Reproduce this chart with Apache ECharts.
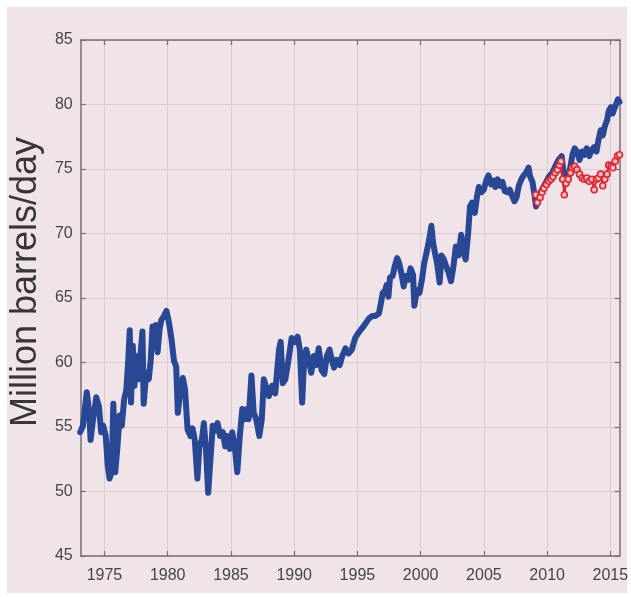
<!DOCTYPE html>
<html>
<head>
<meta charset="utf-8">
<script src="https://cdn.jsdelivr.net/npm/echarts@6/dist/echarts.min.js"></script>
<style>
  html, body { margin: 0; padding: 0; background: #ffffff; }
  #chart { width: 631px; height: 597px; }
</style>
</head>
<body>
<div id="chart"></div>
<script>
// World oil production, million barrels per day (monthly, traced)
const prodYears = [
  1973.08, 1973.3, 1973.6, 1973.8, 1973.9, 1974.1, 1974.35, 1974.56, 1974.74, 1974.9,
  1975.1, 1975.26, 1975.4, 1975.57, 1975.7, 1975.85, 1976.03, 1976.2, 1976.37, 1976.55,
  1976.73, 1976.88, 1977.0, 1977.1, 1977.24, 1977.37, 1977.5, 1977.7, 1977.8, 1978.0,
  1978.1, 1978.3, 1978.5, 1978.66, 1978.8, 1978.94, 1979.07, 1979.2, 1979.36, 1979.5,
  1979.7, 1979.9, 1980.1, 1980.3, 1980.5, 1980.67, 1980.8, 1981.0, 1981.2, 1981.37,
  1981.57, 1981.8, 1981.96, 1982.14, 1982.35, 1982.5, 1982.7, 1982.86, 1983.04, 1983.2,
  1983.4, 1983.56, 1983.76, 1983.94, 1984.15, 1984.36, 1984.54, 1984.7, 1984.9, 1985.1,
  1985.3, 1985.5, 1985.7, 1985.9, 1986.08, 1986.26, 1986.4, 1986.62, 1986.8, 1987.0,
  1987.24, 1987.44, 1987.6, 1987.75, 1988.0, 1988.26, 1988.5, 1988.8, 1988.93, 1989.1,
  1989.3, 1989.55, 1989.8, 1990.06, 1990.27, 1990.45, 1990.63, 1990.78, 1990.96, 1991.14,
  1991.35, 1991.55, 1991.74, 1991.94, 1992.17, 1992.38, 1992.58, 1992.8, 1992.97, 1993.15,
  1993.35, 1993.6, 1993.8, 1994.05, 1994.3, 1994.56, 1994.82, 1995.08, 1995.4, 1995.65,
  1995.9, 1996.16, 1996.4, 1996.7, 1996.86, 1997.0, 1997.2, 1997.3, 1997.45, 1997.58,
  1997.78, 1997.96, 1998.14, 1998.3, 1998.48, 1998.66, 1998.8, 1999.0, 1999.2, 1999.4,
  1999.5, 1999.7, 1999.9, 2000.1, 2000.28, 2000.46, 2000.67, 2000.85, 2000.98, 2001.13,
  2001.3, 2001.5, 2001.65, 2001.83, 2002.0, 2002.2, 2002.4, 2002.6, 2002.78, 2003.0,
  2003.2, 2003.4, 2003.56, 2003.76, 2003.9, 2004.07, 2004.28, 2004.46, 2004.6, 2004.8,
  2005.0, 2005.18, 2005.36, 2005.57, 2005.77, 2005.9, 2006.08, 2006.3, 2006.47, 2006.65,
  2006.86, 2007.04, 2007.24, 2007.42, 2007.58, 2007.76, 2007.96, 2008.14, 2008.32, 2008.53,
  2008.66, 2008.84, 2009.0, 2009.12, 2009.36, 2009.6, 2009.87, 2010.13, 2010.4, 2010.64,
  2010.9, 2011.15, 2011.3, 2011.4, 2011.67, 2011.85, 2012.0, 2012.18, 2012.36, 2012.56,
  2012.77, 2012.95, 2013.13, 2013.33, 2013.54, 2013.72, 2013.9, 2014.05, 2014.23, 2014.4,
  2014.56, 2014.74, 2014.87, 2015.05, 2015.18, 2015.4, 2015.6, 2015.72
];
const prodValues = [
  54.6, 55.1, 57.7, 56.1, 54.0, 55.6, 57.3, 56.6, 54.6, 55.1,
  54.3, 52.0, 51.0, 51.5, 56.8, 51.5, 53.5, 55.9, 55.1, 57.1,
  57.9, 60.2, 62.5, 56.9, 61.3, 58.2, 60.5, 58.7, 60.0, 62.4,
  56.8, 59.2, 58.7, 60.2, 62.8, 61.3, 62.9, 60.8, 62.6, 63.3,
  63.6, 64.0, 63.1, 61.8, 60.1, 59.7, 56.1, 57.9, 58.8, 57.9,
  54.8, 54.3, 54.9, 54.0, 51.0, 53.5, 54.0, 55.3, 53.0, 49.9,
  52.8, 55.1, 54.7, 55.3, 54.3, 54.6, 53.5, 54.3, 53.3, 54.6,
  53.5, 51.5, 54.3, 56.4, 55.6, 56.4, 55.6, 59.0, 56.1, 55.6,
  54.3, 55.6, 58.7, 58.8, 57.4, 58.2, 57.6, 61.0, 61.6, 58.4,
  58.7, 60.2, 61.9, 61.6, 62.0, 61.0, 56.9, 60.0, 61.0, 60.2,
  59.2, 60.5, 59.8, 61.1, 59.4, 59.1, 60.5, 61.0, 60.2, 59.6,
  60.2, 59.8, 60.5, 61.1, 60.7, 61.0, 61.9, 62.3, 62.7, 63.05,
  63.4, 63.6, 63.6, 63.8, 64.6, 65.4, 65.6, 66.0, 65.1, 66.6,
  66.7, 67.5, 68.1, 67.7, 66.9, 65.9, 66.7, 66.4, 67.3, 66.8,
  64.4, 65.6, 65.4, 66.4, 67.7, 68.5, 69.5, 70.6, 69.3, 68.5,
  67.7, 66.2, 68.3, 68.0, 67.5, 67.0, 66.3, 67.5, 69.0, 68.3,
  69.9, 68.5, 68.0, 70.1, 72.1, 72.4, 71.6, 72.9, 73.6, 73.2,
  73.4, 74.1, 74.5, 73.8, 74.1, 73.6, 74.2, 73.7, 74.0, 73.3,
  73.2, 73.4, 72.9, 72.5, 72.8, 73.7, 74.2, 74.5, 74.7, 75.1,
  74.4, 74.0, 73.0, 72.1, 72.9, 73.4, 73.9, 74.4, 74.7, 75.2,
  75.7, 76.0, 74.7, 73.9, 74.4, 75.2, 76.1, 76.6, 76.35, 75.7,
  76.35, 76.1, 76.6, 76.0, 76.5, 76.7, 76.35, 77.2, 78.0, 77.6,
  78.3, 78.8, 79.5, 79.8, 79.3, 79.9, 80.4, 80.2
];

// Second series from 2009 on
const altYears = [
  2009.1, 2009.23, 2009.44, 2009.6, 2009.74, 2009.95, 2010.13, 2010.3, 2010.46, 2010.64,
  2010.82, 2010.97, 2011.1, 2011.23, 2011.36, 2011.5, 2011.67, 2011.85, 2012.0, 2012.18,
  2012.36, 2012.56, 2012.77, 2012.95, 2013.13, 2013.33, 2013.54, 2013.72, 2013.9, 2014.05,
  2014.23, 2014.4, 2014.56, 2014.74, 2014.87, 2015.05, 2015.2, 2015.38, 2015.56, 2015.72
];
const altValues = [
  73.0, 72.4, 72.8, 73.2, 73.5, 73.8, 74.05, 74.2, 74.4, 74.7,
  74.95, 75.3, 75.6, 74.2, 73.0, 73.9, 74.2, 74.7, 75.1, 75.2,
  74.95, 74.6, 74.3, 74.2, 74.3, 74.05, 74.2, 73.4, 74.2, 74.3,
  74.6, 73.7, 74.2, 74.6, 75.3, 75.2, 75.1, 75.6, 76.0, 76.1
];

const yearTicks = [1975, 1980, 1985, 1990, 1995, 2000, 2005, 2010, 2015];
const yMin = 45, yMax = 85, yStep = 5;
const xMin = 1973.12, xMax = 2015.73;

const pairs = (xs, ys) => xs.map((x, i) => [x, ys[i]]);

const axisGrey = '#776f73';
const gridPink = '#dbcdd3';
const labelFont = { color: '#454545', fontSize: 16, fontFamily: 'Liberation Sans, Arial, sans-serif' };

const chart = echarts.init(document.getElementById('chart'), null, { renderer: 'canvas' });

chart.setOption({
  backgroundColor: 'transparent',
  animation: false,
  graphic: [{
    type: 'rect', z: -10, silent: true,
    shape: { x: 7, y: 7, width: 620, height: 586 },
    style: { fill: '#f0e4e9' }
  }],
  grid: { left: 71, right: 10, top: 40, bottom: 41, containLabel: false },
  xAxis: [{
    type: 'value', min: xMin, max: xMax,
    axisLine: { show: true, lineStyle: { color: axisGrey, width: 1.5 } },
    axisTick: { show: true, inside: true, length: 5, customValues: yearTicks, lineStyle: { color: axisGrey, width: 1.2 } },
    axisLabel: { ...labelFont, margin: 12, customValues: yearTicks, formatter: v => String(Math.round(v)) },
    splitLine: { show: true, lineStyle: { color: gridPink, width: 1 } }
  }, {
    type: 'value', position: 'top', min: xMin, max: xMax,
    axisLine: { show: true, onZero: false, lineStyle: { color: axisGrey, width: 1.5 } },
    axisTick: { show: true, inside: true, length: 5, customValues: yearTicks, lineStyle: { color: axisGrey, width: 1.2 } },
    axisLabel: { show: false, customValues: yearTicks },
    splitLine: { show: false }
  }],
  yAxis: [{
    type: 'value', min: yMin, max: yMax, interval: yStep,
    name: 'Million barrels/day',
    nameLocation: 'middle', nameRotate: 90, nameGap: 30,
    nameTextStyle: {
      color: '#363636', fontSize: 36, fontFamily: 'Liberation Sans, Arial, sans-serif',
      padding: [0, 0, 0, 32]
    },
    axisLine: { show: true, onZero: false, lineStyle: { color: axisGrey, width: 1.5 } },
    axisTick: { show: true, inside: true, length: 5, lineStyle: { color: axisGrey, width: 1.2 } },
    axisLabel: { ...labelFont, margin: 8 },
    splitLine: { show: true, lineStyle: { color: gridPink, width: 1 } }
  }, {
    type: 'value', position: 'right', min: yMin, max: yMax, interval: yStep,
    axisLine: { show: true, onZero: false, lineStyle: { color: axisGrey, width: 1.5 } },
    axisTick: { show: true, inside: true, length: 5, lineStyle: { color: axisGrey, width: 1.2 } },
    axisLabel: { show: false },
    splitLine: { show: false }
  }],
  series: [{
    name: 'Production',
    type: 'line',
    data: pairs(prodYears, prodValues),
    showSymbol: false,
    symbol: 'none',
    lineStyle: { color: '#284896', width: 6, join: 'round', cap: 'round' },
    z: 3
  }, {
    name: 'Alternative',
    type: 'line',
    data: pairs(altYears, altValues),
    showSymbol: true,
    symbol: 'circle',
    symbolSize: 6,
    itemStyle: { color: '#f3c3c8', borderColor: '#e3222c', borderWidth: 1.6 },
    lineStyle: { color: '#e3222c', width: 2 },
    z: 4
  }]
});
</script>
</body>
</html>
